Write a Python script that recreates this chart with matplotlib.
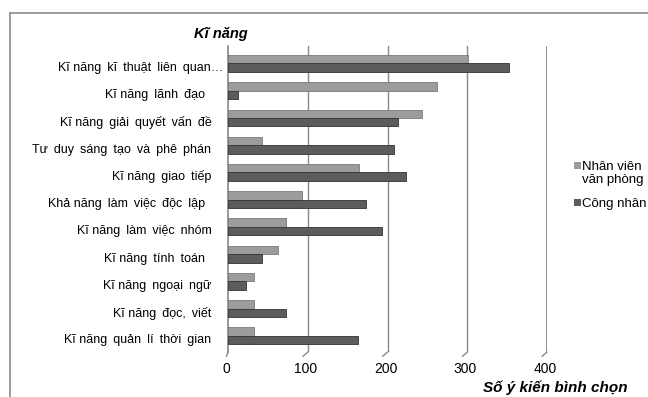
import numpy as np
import matplotlib
matplotlib.use("Agg")
import matplotlib.pyplot as plt
from matplotlib.lines import Line2D
from matplotlib.patches import Rectangle
import matplotlib.transforms as mtransforms

plt.rcParams['font.family'] = ['Liberation Sans', 'DejaVu Sans']

# data
skills = [
    "Kĩ năng kĩ thuật liên quan…",
    "Kĩ năng lãnh đạo ",
    "Kĩ năng giải quyết vấn đề",
    "Tư duy sáng tạo và phê phán",
    "Kĩ năng giao tiếp",
    "Khả năng làm việc độc lập ",
    "Kĩ năng làm việc nhóm",
    "Kĩ năng tính toán ",
    "Kĩ năng ngoại ngữ",
    "Kĩ năng đọc, viết",
    "Kĩ năng quản lí thời gian",
]
nhan_vien = [301, 262, 243, 43, 164, 93, 73, 63, 33, 33, 33]
cong_nhan = [352, 12, 213, 208, 223, 173, 193, 43, 23, 73, 163]
xticks = [0, 100, 200, 300, 400]
series = ["Nhân viên\nvăn phòng", "Công nhân"]

c_nv = "#9c9c9c"
c_cn = "#5c5c5c"


def wide(label):
    # the source uses wide word gaps, except inside "Kĩ năng"/"Khả năng"
    words = label.split(" ")
    out = words[0]
    for i, w in enumerate(words[1:], 1):
        gap = " " if (i == 1 and words[1] == "năng") else " \u2009"
        out += gap + w
    return out


fig = plt.figure(figsize=(6.48, 3.97), dpi=100)
ax = fig.add_axes([0.352, 0.113, 0.492, 0.771])
px = lambda dx, dy: mtransforms.ScaledTranslation(dx / 100, dy / 100, fig.dpi_scale_trans)

y = np.arange(len(skills))
h = 0.31
ax.barh(y - h / 2, nhan_vien, height=h, color=c_nv, edgecolor="#7a7a7a", linewidth=0.6, zorder=3)
ax.barh(y + h / 2, cong_nhan, height=h, color=c_cn, edgecolor="#333333", linewidth=0.6, zorder=3)

ax.set_xlim(0, 400)
ax.set_ylim(10.6, -0.64)
ax.set_xticks(xticks)
ax.set_xticklabels([str(t) for t in xticks], fontsize=10)
ax.tick_params(axis="x", length=0, pad=7)
for lab in ax.get_xticklabels():
    lab.set_transform(lab.get_transform() + px(-2, 0))

ax.set_yticks(y)
ax.set_yticklabels([wide(s) for s in skills], fontsize=9.0)
ax.tick_params(axis="y", length=0, pad=15)
for i, lab in enumerate(ax.get_yticklabels()):
    lab.set_transform(lab.get_transform() + px(16 if i == 0 else 4, -3))

for s in ["top", "right", "bottom"]:
    ax.spines[s].set_visible(False)
ax.spines["left"].set_color("#888888")
ax.spines["left"].set_linewidth(1.2)

# back wall grid lines with a small slant towards the floor
for t in xticks[1:]:
    ax.axvline(t, color="#8a8a8a", linewidth=1.0 if t < 400 else 1.3, zorder=1)
    ax.plot([t, t - 6], [10.6, 10.75], color="#8a8a8a", linewidth=1.0, clip_on=False)
ax.plot([0, -2], [10.6, 10.75], color="#8a8a8a", linewidth=1.0, clip_on=False)

fig.text(0.341, 0.915, "Kĩ năng", fontsize=10.5, fontweight="bold", fontstyle="italic",
         ha="center", va="center")
fig.text(0.968, 0.023, "Số ý kiến bình chọn", fontsize=11, fontweight="bold", fontstyle="italic",
         ha="right", va="center")

# legend, drawn by hand so the square sits on the first text line
leg_y = [1 - 165 / 397, 1 - 202 / 397]
for col, lab, ly in zip([c_nv, c_cn], series, leg_y):
    fig.add_artist(Rectangle((574 / 648, ly - 3.5 / 397), 7 / 648, 7 / 397, facecolor=col,
                             edgecolor="none", transform=fig.transFigure))
    fig.text(582 / 648, ly + 4 / 397, lab, fontsize=9.5, ha="left", va="top", linespacing=1.1)

# outer chart border (cut off at right and bottom)
fig.add_artist(Line2D([10 / 648, 1.0], [1 - 13 / 397] * 2, color="#8c8c8c", linewidth=1.2,
                      transform=fig.transFigure))
fig.add_artist(Line2D([10 / 648] * 2, [0, 1 - 13 / 397], color="#8c8c8c", linewidth=1.2,
                      transform=fig.transFigure))

fig.savefig("out.png", dpi=100)
